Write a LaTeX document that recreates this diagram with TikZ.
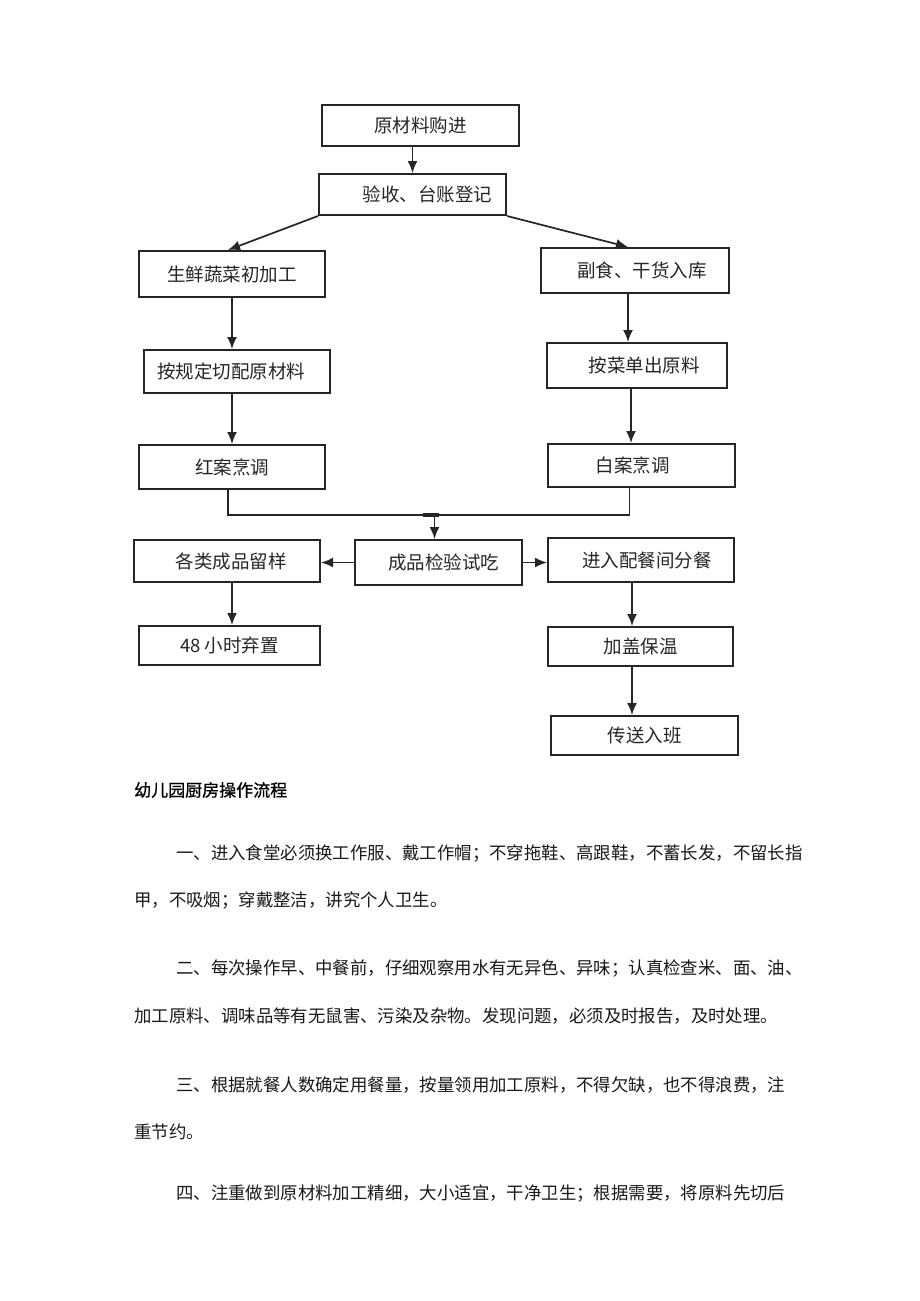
\documentclass[tikz,border=0pt]{standalone}
\usepackage{fontspec}
\newfontfamily\cjk{Noto Sans CJK SC}
\newfontfamily\cjkb{Noto Sans CJK SC}[FakeBold=0.8]
\usetikzlibrary{arrows.meta}
\begin{document}
\begin{tikzpicture}[x=1pt,y=-1pt,
  box/.style={draw=black!85,line width=2pt,inner sep=0pt,font=\cjk\fontsize{18.5}{20}\selectfont,text=black!85},
  arr/.style={draw=black!85,line width=1.7pt,-{Latex[length=12pt,width=10pt]}},
  ln/.style={draw=black!85,line width=1.7pt},
  para/.style={anchor=west,inner sep=0pt,font=\cjk\fontsize{17.4}{20}\selectfont,text=black!90}]
\useasboundingbox (0,0) rectangle (920,1301);
\fill[white] (0,0) rectangle (920,1301);
% boxes
\node[box,minimum width=197pt,minimum height=41pt] (n1) at (420.5,125.5) {原材料购进};
\node[box,minimum width=187pt,minimum height=41pt] (n2) at (412.5,194.5) {\hspace*{30pt}验收、台账登记};
\node[box,minimum width=186pt,minimum height=46pt] (n3) at (232,274) {生鲜蔬菜初加工};
\node[box,minimum width=188pt,minimum height=45pt] (n4) at (635,270.5) {\hspace*{14pt}副食、干货入库};
\node[box,minimum width=186pt,minimum height=43pt] (n5) at (237,371.5) {按规定切配原材料\hspace*{12pt}};
\node[box,minimum width=180pt,minimum height=45pt] (n6) at (637,365.5) {\hspace*{14pt}按菜单出原料};
\node[box,minimum width=186pt,minimum height=44pt] (n7) at (232,467) {红案烹调};
\node[box,minimum width=187pt,minimum height=43pt] (n8) at (641.5,465.5) {白案烹调\hspace*{18pt}};
\node[box,minimum width=167pt,minimum height=45pt] (n9) at (438.5,562.5) {\hspace*{10pt}成品检验试吃};
\node[box,minimum width=186pt,minimum height=42pt] (n10) at (227,561) {\hspace*{8pt}各类成品留样};
\node[box,minimum width=186pt,minimum height=44pt] (n11) at (641,560) {\hspace*{12pt}进入配餐间分餐};
\node[box,minimum width=181pt,minimum height=39pt] (n12) at (229.5,645.5) {48 小时弃置};
\node[box,minimum width=185pt,minimum height=39pt] (n13) at (640.5,646.5) {加盖保温};
\node[box,minimum width=187pt,minimum height=39pt] (n14) at (644.5,735.5) {传送入班};
% connectors
\draw[arr] (n1.south -| n2.north) -- (n2.north);
\draw[arr] (n2.south west) -- ([xshift=-4pt]n3.north);
\draw[arr] (n2.south east) -- ([xshift=-7pt]n4.north);
\draw[arr] (n3.south) -- (n3.south |- n5.north);
\draw[arr] ([xshift=-7pt]n4.south) -- ([xshift=-7pt]n4.south |- n6.north);
\draw[arr] (n5.south -| n7.north) -- (n7.north);
\draw[arr] ([xshift=-6pt]n6.south) -- ([xshift=-6pt]n6.south |- n8.north);
\draw[ln] ([xshift=-4pt]n7.south) -- ++(0,25) coordinate (ml) -| ([xshift=-12pt]n8.south);
\coordinate (mc) at ([xshift=-4pt]n9.north |- ml);
\draw[draw=black!85,line width=3.5pt] ([xshift=-12pt]mc) -- ([xshift=4pt]mc);
\draw[arr] (mc) -- ([xshift=-4pt]n9.north);
\draw[arr] (n9.west) -- (n9.west -| n10.east);
\draw[arr] (n9.east) -- (n9.east -| n11.west);
\draw[arr] ([xshift=5pt]n10.south) -- ([xshift=5pt]n10.south |- n12.north);
\draw[arr] ([xshift=-9pt]n11.south) -- ([xshift=-9pt]n11.south |- n13.north);
\draw[arr] ([xshift=-9pt]n13.south -| n11.south) -- ([xshift=-9pt]n11.south |- n14.north);
% text
\node[anchor=west,inner sep=0pt,font=\cjkb\fontsize{17}{20}\selectfont,text=black] (t0) at (134,790) {幼儿园厨房操作流程};
\node[para] (t1) at (176,854) {一、进入食堂必须换工作服、戴工作帽；不穿拖鞋、高跟鞋，不蓄长发，不留长指};
\node[para] (t2) at (134,901) {甲，不吸烟；穿戴整洁，讲究个人卫生。};
\node[para] (t3) at (176,969) {二、每次操作早、中餐前，仔细观察用水有无异色、异味；认真检查米、面、油、};
\node[para] (t4) at (134,1016) {加工原料、调味品等有无鼠害、污染及杂物。发现问题，必须及时报告，及时处理。};
\node[para] (t5) at (176,1085) {三、根据就餐人数确定用餐量，按量领用加工原料，不得欠缺，也不得浪费，注};
\node[para] (t6) at (134,1132) {重节约。};
\node[para] (t7) at (176,1194) {四、注重做到原材料加工精细，大小适宜，干净卫生；根据需要，将原料先切后};
\end{tikzpicture}
\end{document}
